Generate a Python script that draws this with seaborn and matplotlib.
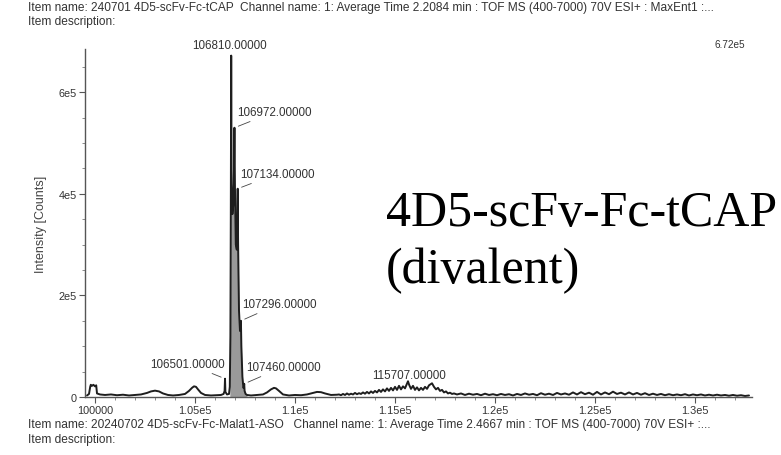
import numpy as np
import pandas as pd
import matplotlib
matplotlib.use("Agg")
import matplotlib.pyplot as plt
import seaborn as sns
from matplotlib.ticker import FixedLocator, MultipleLocator

# ---------------- data ----------------
left_mass = [99600, 99700, 99760, 99790, 99850, 99920, 100000, 100060, 100100, 100250,
             100500, 100800, 101100, 101400, 101700, 102000, 102300, 102600, 102800, 103000,
             103200, 103400, 103650, 103900, 104200, 104500, 104700, 104850, 104950, 105050,
             105150, 105300, 105500, 105800, 106100, 106300, 106430, 106480, 106501, 106520,
             106600, 106700]
left_int = [3000, 6000, 20000, 24000, 22000, 24000, 21000, 23000, 7000, 5000,
            4000, 5000, 3500, 4500, 3000, 4000, 5000, 8000, 11000, 12500,
            11000, 7000, 4000, 3000, 4000, 6000, 12000, 18000, 21000, 20000,
            15000, 8000, 4000, 3000, 3500, 4000, 6000, 12000, 36000, 10000,
            5000, 6000]

main_mass = [106740, 106770, 106790, 106810, 106830, 106870, 106920, 106950, 106972, 106995,
             107040, 107090, 107115, 107134, 107155, 107200, 107250, 107275, 107296, 107318,
             107370, 107420, 107445, 107460, 107480, 107530, 107600]
main_int = [20000, 120000, 350000, 672000, 420000, 360000, 380000, 450000, 530000, 420000,
            300000, 290000, 340000, 410000, 300000, 170000, 130000, 140000, 150000, 100000,
            40000, 18000, 20000, 26000, 12000, 6000, 4000]

mid_mass = [107800, 108100, 108400, 108600, 108800, 108950, 109050, 109200, 109400, 109700,
            110000, 110300, 110600, 110900, 111100, 111300, 111500, 111800, 112100]
mid_int = [3000, 4000, 5000, 9000, 15000, 18000, 17000, 12000, 5000, 3000,
           4000, 3500, 5000, 8000, 10000, 9500, 7000, 4000, 4500]

cluster_mass = [112200, 112300, 112400, 112500, 112600, 112700, 112800, 112900, 113000, 113100,
                113200, 113300, 113400, 113500, 113600, 113700, 113800, 113900, 114000, 114100,
                114200, 114300, 114400, 114500, 114600, 114700, 114800, 114900, 115000, 115100,
                115200, 115300, 115400, 115500, 115600, 115650, 115707, 115800, 115900, 116000,
                116100, 116200, 116300, 116400, 116500, 116600, 116700, 116850, 116950, 117050,
                117150, 117250, 117350, 117450, 117550, 117650, 117750, 117850, 117950]
cluster_int = [5000, 3500, 6000, 4000, 7000, 4500, 6500, 5000, 8000, 5500,
               7500, 6000, 9000, 6500, 10000, 7000, 11000, 8000, 12000, 9000,
               14000, 10000, 15000, 11000, 17000, 12000, 18000, 13000, 20000, 14000,
               22000, 15000, 21000, 17000, 26000, 31000, 24000, 16000, 22000, 14000,
               19000, 13000, 18000, 14000, 20000, 16000, 23000, 27000, 20000, 15000,
               18000, 12000, 14000, 9000, 11000, 7000, 8500, 6000, 7000]

tail_mass = [118100, 118300, 118500, 118700, 118900, 119100, 119300, 119500, 119700, 119900,
             120100, 120300, 120500, 120700, 120900, 121100, 121300, 121500, 121700, 121900,
             122100, 122300, 122500, 122700, 122900, 123100, 123300, 123500, 123700, 123900,
             124100, 124300, 124500, 124700, 124900, 125100, 125300, 125500, 125700, 125900,
             126100, 126300, 126500, 126700, 126900, 127100, 127300, 127500, 127700, 127900,
             128100, 128300, 128500, 128700, 128900, 129100, 129300, 129500, 129700, 129900,
             130100, 130300, 130500, 130700, 130900, 131100, 131300, 131500, 131700, 131900,
             132100, 132300, 132500, 132700]
tail_int = [5000, 7000, 4000, 6500, 4500, 6000, 3500, 6500, 4000, 5500,
            3500, 6000, 4000, 5500, 3000, 6000, 4000, 7000, 4500, 6000,
            3500, 7500, 4500, 6500, 4000, 8000, 5000, 7000, 4500, 9000,
            5000, 9500, 5500, 8500, 4500, 10000, 5000, 9000, 5500, 10500,
            6000, 8500, 5000, 9000, 5000, 8000, 4500, 7500, 4000, 6500,
            4000, 6000, 3500, 5500, 3500, 5000, 3500, 5500, 3000, 5000,
            3500, 5000, 3000, 4500, 3000, 4500, 3000, 4000, 2500, 4000,
            2500, 3500, 2000, 3000]

# labelled peaks
peak_mass = [106810, 106972, 107134, 107296, 107460, 106501, 115707]
peak_int = [672000, 530000, 410000, 150000, 26000, 36000, 24000]

x_tick_values = [100000, 105000, 110000, 115000, 120000, 125000, 130000]
x_tick_labels = ["100000", "1.05e5", "1.1e5", "1.15e5", "1.2e5", "1.25e5", "1.3e5"]
y_tick_values = [0, 200000, 400000, 600000]
y_tick_labels = ["0", "2e5", "4e5", "6e5"]

header_line1 = ("Item name: 240701 4D5-scFv-Fc-tCAP  Channel name: 1: Average Time 2.2084 min : "
                "TOF MS (400-7000) 70V ESI+ : MaxEnt1 :...")
header_line2 = "Item description:"
footer_line1 = ("Item name: 20240702 4D5-scFv-Fc-Malat1-ASO   Channel name: 1: Average Time 2.4667 min : "
                "TOF MS (400-7000) 70V ESI+ :...")
footer_line2 = "Item description:"
max_label = "6.72e5"
y_label = "Intensity [Counts]"
big_label_1 = "4D5-scFv-Fc-tCAP"
big_label_2 = "(divalent)"

# ---------------- figure ----------------
sns.set_style("ticks")
plt.rcParams['font.family'] = ['Liberation Sans', 'DejaVu Sans']

W, H = 781, 456
fig = plt.figure(figsize=(W / 100, H / 100), dpi=100)
ax = fig.add_axes([85 / W, 58 / H, (752 - 85) / W, (398 - 50) / H])

df = pd.DataFrame({
    "mass": left_mass + main_mass + mid_mass + cluster_mass + tail_mass,
    "intensity": left_int + main_int + mid_int + cluster_int + tail_int,
})
ax.fill_between(main_mass, 0, main_int, color="#9a9a9a", linewidth=0)
sns.lineplot(data=df, x="mass", y="intensity", ax=ax, color="#1e1e1e",
             linewidth=1.4, estimator=None, sort=False)

ax.set_xlim(99500, 132850)
ax.set_ylim(0, 685000)
ax.set_xlabel("")
ax.set_ylabel(y_label, fontsize=9, color="#444444", labelpad=8)
sns.despine(ax=ax)
for s in ["left", "bottom"]:
    ax.spines[s].set_color("#555555")
    ax.spines[s].set_linewidth(1.0)

ax.xaxis.set_major_locator(FixedLocator(x_tick_values))
ax.set_xticklabels(x_tick_labels)
ax.xaxis.set_minor_locator(MultipleLocator(1000))
ax.yaxis.set_major_locator(FixedLocator(y_tick_values))
ax.set_yticklabels(y_tick_labels)
ax.yaxis.set_minor_locator(MultipleLocator(50000))
ax.tick_params(axis="both", which="major", length=4, width=0.8, color="#555555",
               labelsize=7.8, labelcolor="#333333", pad=2)
ax.tick_params(axis="both", which="minor", length=2, width=0.6, color="#777777")

# peak annotations (offsets in pixels -> points)
px = 0.72
ann_cfg = [  # dx, dy, ha, arrow
    (-2, 11, "center", False),
    (3, 16, "left", True),
    (2, 15, "left", True),
    (1, 17, "left", True),
    (2, 17, "left", True),
    (0, 15, "right", True),
    (0, 10, "center", False),
]
for m, v, (dx, dy, ha, arr) in zip(peak_mass, peak_int, ann_cfg):
    kw = {}
    if arr:
        kw["arrowprops"] = dict(arrowstyle="-", lw=0.6, color="#444444",
                                shrinkA=1, shrinkB=3)
    ax.annotate(f"{m:.5f}", xy=(m, v), xytext=(dx * px, dy * px),
                textcoords="offset points", ha=ha, va="center",
                fontsize=8.4, color="#333333", **kw)

# header / footer texts
fig.text(28 / W, 1 - 8 / H, header_line1, fontsize=8.6, color="#333333", va="center")
fig.text(28 / W, 1 - 22 / H, header_line2, fontsize=8.6, color="#333333", va="center")
fig.text(28 / W, 1 - 425 / H, footer_line1, fontsize=8.6, color="#333333", va="center")
fig.text(28 / W, 1 - 440 / H, footer_line2, fontsize=8.6, color="#333333", va="center")
fig.text(745 / W, 1 - 45 / H, max_label, fontsize=7.2, color="#333333",
         va="center", ha="right")

fig.text(386 / W, 1 - 226 / H, big_label_1, fontsize=36, family=["Liberation Serif"],
         color="black", va="baseline", ha="left")
fig.text(386 / W, 1 - 283 / H, big_label_2, fontsize=36, family=["Liberation Serif"],
         color="black", va="baseline", ha="left")

fig.savefig("out.png", dpi=100)
